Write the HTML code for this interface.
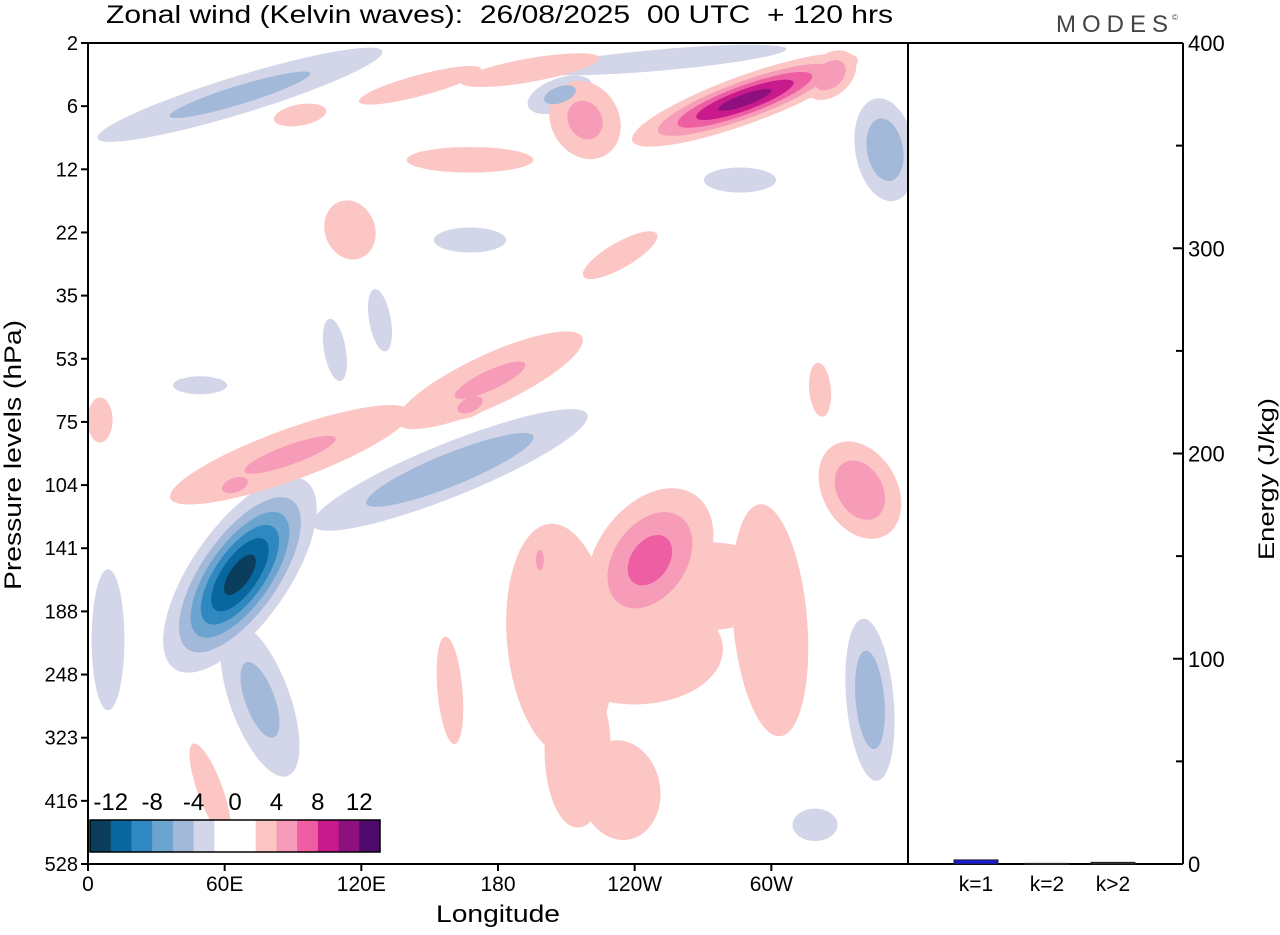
<!DOCTYPE html>
<html><head><meta charset="utf-8">
<style>
body{margin:0;background:#fff;font-family:"Liberation Sans",sans-serif;}
svg text{font-family:"Liberation Sans",sans-serif;white-space:pre;}
</style></head>
<body>
<svg id="chart" width="1280" height="930" viewBox="0 0 1280 930" xmlns="http://www.w3.org/2000/svg">
<g id="field"></g>
<text x="106" y="23" font-size="25" textLength="787" lengthAdjust="spacingAndGlyphs" xml:space="preserve">Zonal wind (Kelvin waves):  26/08/2025  00 UTC  + 120 hrs</text>
<text x="1056" y="32" font-size="24" fill="#444" letter-spacing="6" font-weight="300">MODES</text>
<text x="1172" y="20" font-size="8" fill="#444">©</text>
<rect x="88" y="43" width="820" height="821" fill="none" stroke="#000" stroke-width="2"/>
<line x1="908" y1="43" x2="1183" y2="43" stroke="#000" stroke-width="2"/>
<line x1="1183" y1="43" x2="1183" y2="864" stroke="#000" stroke-width="2"/>
<line x1="908" y1="864" x2="1183" y2="864" stroke="#000" stroke-width="2"/>
<g id="axes"></g>
<g id="cbar"></g>
<g id="bars"></g>
<text x="436" y="922" font-size="24" textLength="124" lengthAdjust="spacingAndGlyphs">Longitude</text>
<text transform="translate(21,590) rotate(-90)" font-size="24" textLength="270" lengthAdjust="spacingAndGlyphs">Pressure levels (hPa)</text>
<text transform="translate(1274,560) rotate(-90)" font-size="22" textLength="162" lengthAdjust="spacingAndGlyphs">Energy (J/kg)</text>
</svg>
<script>
// ---- data ----
const pressureLabels = ["2","6","12","22","35","53","75","104","141","188","248","323","416","528"];
const lonTicks = [0,60,120,180,240,300];
const lonTickLabels = ["0","60E","120E","180","120W","60W"];
const energyTicks = [0,100,200,300,400];
const energyCats = ["k=1","k=2","k>2"];
const energyVals = [2,0.3,0.8];
const cbarLevels = [-14,-12,-10,-8,-6,-4,-2,0,2,4,6,8,10,12,14];
const cbarColors = ["#0b3d5c","#08679f","#2f89c0","#6ba4cf","#a3b9d9","#d3d5e8","#ffffff","#ffffff","#fbc6c4","#f69bb8","#ee5ea3","#c81a8a","#8e0f7e","#4f0a6b"];
const cbarLabels = ["-12","-8","-4","0","4","8","12"];
// wave anomaly features: longitude (deg E), level index, amplitude (m/s), spread major/minor (deg), tilt (deg)
const blobLon  = [66.7,75.5,158.9,8.8,343.3,319.2,66.7,207.2,167.7,349.9,286.2,251.1,128.2,108.4,49.2,
                  246.7,207.2,233.6,299.4,158.9,88.7,64.5,176.5,167.7,338.9,5.3,53.6,288.4,325.7,218.2,167.7,115,194,145.8,93.1,233.6,321.4,198.4,
                  240,215,270];
const blobLev  = [8.42,10.4,6.76,9.45,10.4,12.38,0.82,0.82,3.12,1.69,2.17,0.27,4.39,4.86,5.42,
                  8.19,9.45,11.83,9.14,10.25,6.52,7.0,5.34,5.73,7.08,5.97,11.83,0.9,0.51,1.22,1.85,2.96,0.43,0.67,1.14,3.36,5.49,8.19,
                  9.6,11.2,8.6];
const blobAmp  = [-13,-5,-6,-4,-6,-3,-5,-5,-3,-6,-3,-3.5,-3,-3,-3,
                  7,3.5,3.3,3.5,3,4.5,6,4.5,6,6,3,3,11,6,5,3.5,3.3,4,3.5,3.5,3.5,3,5,
                  3.2,3.2,3.2];
const blobMaj  = [26,26.3,43.9,26.3,24.1,11,48.3,11,17.6,15.4,17.6,52.7,15.4,15.4,13.2,
                  22,48.3,22,48.3,26.3,43.9,6.6,35.1,6.6,15.4,11,24.1,28.5,8.8,13.2,26.3,13.2,26.3,26.3,11,17.6,13.2,6.6,
                  40,35,40];
const blobMin  = [11,9.7,7.9,6.1,7,7.9,6.1,5.3,6.1,8.8,6.1,4.4,5.3,5.3,4.4,
                  15,22,17.6,15.4,6.1,8.8,3.5,8.8,3.5,11,6.1,6.1,5.7,6.1,11,5.3,11,4.4,4.4,4.4,5.3,5.3,2.6,
                  25,15,20];
const blobTilt = [-55,70,-22,90,85,0,-17,-20,0,80,0,-5,80,80,0,
                  -55,85,80,85,85,-20,-20,-25,-25,60,90,70,-20,-40,60,0,70,-10,-15,-10,-30,85,90,
                  0,90,0];

// ---- scales ----
const X0=88,X1=908,Y0=43,Y1=864;
const xLon = l => X0 + l*(X1-X0)/360;
const yLev = i => Y0 + i*(Y1-Y0)/13;
const pxPerDeg = (X1-X0)/360;
const yE = v => Y1 - v*(Y1-Y0)/400;
const NS="http://www.w3.org/2000/svg";
function mk(tag,attrs,parent){const e=document.createElementNS(NS,tag);for(const k in attrs)e.setAttribute(k,attrs[k]);parent.appendChild(e);return e;}
function colorFor(v){for(let i=0;i<cbarLevels.length-1;i++){if(v<cbarLevels[i+1])return cbarColors[i];}return cbarColors[cbarColors.length-1];}

// ---- field ----
const field=document.getElementById('field');
const clip=mk('clipPath',{id:'plotclip'},field);
mk('rect',{x:X0,y:Y0,width:X1-X0,height:Y1-Y0},clip);
const fg=mk('g',{'clip-path':'url(#plotclip)'},field);
const thr=[2,4,6,8,10,12];
thr.forEach(L=>{
  for(let b=0;b<blobAmp.length;b++){
    const A=Math.abs(blobAmp[b]); if(A<=L) continue;
    const f=Math.sqrt(2*Math.log(A/L));
    const cx=xLon(blobLon[b]), cy=yLev(blobLev[b]);
    const v=Math.sign(blobAmp[b])*(L+0.5);
    const e=mk('ellipse',{cx:cx,cy:cy,rx:blobMaj[b]*pxPerDeg*f,ry:blobMin[b]*pxPerDeg*f,fill:colorFor(v),transform:`rotate(${blobTilt[b]} ${cx} ${cy})`},fg);
    
    
  }
});

// ---- axes ----
const ax=document.getElementById('axes');
pressureLabels.forEach((p,i)=>{
  const y=yLev(i);
  const t=mk('line',{x1:X0-7,y1:y,x2:X0,y2:y,stroke:'#000','stroke-width':2},ax);
  
  
  const tx=mk('text',{x:X0-10,y:y+7,'font-size':20,'text-anchor':'end'},ax);
  
  
  tx.textContent=p;
});
lonTicks.forEach((l,i)=>{
  const x=xLon(l);
  const t=mk('line',{x1:x,y1:Y1,x2:x,y2:Y1+7,stroke:'#000','stroke-width':2},ax);
  
  
  const tx=mk('text',{x:x,y:Y1+27,'font-size':21,'text-anchor':'middle'},ax);
  
  
  tx.textContent=lonTickLabels[i];
});
for(let v=0;v<=400;v+=50){
  const y=yE(v);
  const t=mk('line',{x1:1183-(v%100===0?10:7),y1:y,x2:1183,y2:y,stroke:'#000','stroke-width':2},ax);
  
  
}
energyTicks.forEach(v=>{
  const tx=mk('text',{x:1188,y:yE(v)+8,'font-size':22},ax);
  
  
  tx.textContent=v;
});

// ---- colorbar ----
const cb=document.getElementById('cbar');
const cbx=90,cbw=290,cby=820,cbh=32,cw=cbw/cbarColors.length;
cbarColors.forEach((c,i)=>{
  const r=mk('rect',{x:cbx+i*cw,y:cby,width:cw+0.5,height:cbh,fill:c},cb);
  
  
});
mk('rect',{x:cbx,y:cby,width:cbw,height:cbh,fill:'none',stroke:'#000','stroke-width':1.5},cb);
cbarLabels.forEach((s,i)=>{
  const tx=mk('text',{x:cbx+(1+2*i)*cw,y:810,'font-size':24,'text-anchor':'middle'},cb);
  
  
  tx.textContent=s;
});

// ---- energy bars ----
const bg=document.getElementById('bars');
const barX=[976,1047,1113];
energyCats.forEach((c,i)=>{
  const y=yE(energyVals[i]);
  const r=mk('rect',{x:barX[i]-22,y:y,width:44,height:Math.max(Y1-y,1),fill:i===0?'#1a1adc':'#333',stroke:'#222','stroke-width':1},bg);
  
  
  const tx=mk('text',{x:barX[i],y:Y1+27,'font-size':21,'text-anchor':'middle'},bg);
  
  
  tx.textContent=c;
});
</script>
</body></html>
